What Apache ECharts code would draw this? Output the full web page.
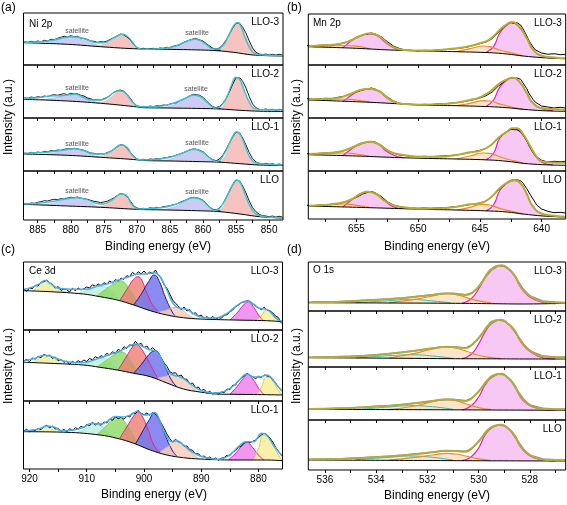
<!DOCTYPE html>
<html><head><meta charset="utf-8">
<script src="https://cdn.jsdelivr.net/npm/echarts@6/dist/echarts.min.js"></script>
<style>html,body{margin:0;padding:0;background:#fff}#c{width:567px;height:505px}</style>
</head><body><div id="c"></div>
<script>
// ---------- axis ticks / labels ----------
const niTicks=[850,852.5,855,857.5,860,862.5,865,867.5,870,872.5,875,877.5,880,882.5,885];
const niLabels=[850,855,860,865,870,875,880,885];
const mnTicks=[640,642.5,645,647.5,650,652.5,655,657.5];
const mnLabels=[640,645,650,655];
const ceTicks=[880,885,890,895,900,905,910,915,920];
const ceLabels=[880,890,900,910,920];
const oTicks=[527,528,529,530,531,532,533,534,535,536];
const oLabels=[528,530,532,534,536];

// ---------- (a) Ni 2p ----------
const a3Raw=[[887,23.3],[886.5,22.7],[886,23.7],[885.5,23],[885,24],[884.5,23.3],[884,24.7],[883.5,24],[883,25.7],[882.5,25.3],[882,26.7],[881.5,27.7],[881,28.7],[880.5,28],[880,29.3],[879.5,28.3],[879,28.7],[878.5,27],[878,26.3],[877.5,25.7],[877,24],[876.5,23.7],[876,22.7],[875.5,23.3],[875,23],[874.5,24],[874,25.7],[873.5,27.3],[873,29],[872.5,31],[872.2,31.3],[872,30],[871.5,28],[871,25],[870.5,20.7],[870,17.3],[869.5,16.3],[869,16.7],[868.5,15.7],[868,16.3],[867.5,16.7],[867,16],[866.5,17],[866,16.7],[865.5,17.7],[865,17.3],[864.5,18.7],[864,19.3],[863.5,20.3],[863,22.3],[862.5,23.7],[862,25],[861.5,26],[861,26.3],[860.5,25],[860,24],[859.5,21.3],[859,19],[858.5,16.7],[858,16],[857.5,17],[857,20.3],[856.5,25],[856,31],[855.5,37],[855,41.7],[854.8,42.7],[854.5,42],[854,37.7],[853.5,32],[853,24],[852.5,17],[852,12.7],[851.5,11],[851,10.3],[850.5,11],[850,10],[849.5,10.7],[849,10],[848.5,10.7],[848,10]];
const a3Env=[[887,22.7],[885,23],[882.5,25],[881.3,27],[880,28.3],[878.8,27.7],[877.5,25],[876.2,22.3],[875,22.3],[874,25],[873,29],[872.2,30.7],[871.5,29],[870.7,23.3],[870,17.7],[869,15.7],[867.5,16],[865.9,16.7],[864.4,18.3],[863.2,21.7],[861.9,25],[861.2,25.7],[860.4,24.3],[859.4,20],[858.4,16],[857.7,16],[856.9,20],[856.2,28.3],[855.4,39],[854.8,42.5],[854.3,39],[853.7,28.3],[852.9,16.7],[852.2,11.7],[850.9,10],[848,9.3]];
const a3Base=[[887.2,22.3],[880.5,20.7],[875.5,18.3],[870.5,16.3],[865.4,15.7],[860.4,15],[857.9,14.3],[855.4,12.7],[852.4,10],[847.9,9]];
const a3Sat1=[[884.5,21.7],[883.5,22.4],[882,25.3],[881,27],[880,27.7],[879,27],[878,24.7],[877,22.2],[876,19.8],[874.8,18]];
const a3Ni3=[[876.5,18.9],[875.5,19.6],[874.5,21.8],[873.7,25.3],[873,28.5],[872.2,30.7],[871.5,28.5],[870.8,23],[870.2,18],[869.5,16.1]];
const a3Sat2=[[866.5,15.9],[865.4,17.2],[863.9,20],[862.4,24.3],[861.2,25.7],[859.9,23.3],[858.9,18.3],[857.9,14.5]];
const a3Ni2=[[858.4,14.6],[857.4,15.5],[856.4,25],[855.4,38.3],[854.8,42.3],[854.2,38.3],[853.4,26.7],[852.4,15],[851.4,10.3],[850.5,9.6]];
const a3Tiny=[[858.3,14.5],[857.8,16],[857.3,14.2]];

const a2Raw=[[887,20.3],[886.5,19.7],[886,21],[885.5,20.3],[885,21.3],[884.5,20.7],[884,22],[883.5,21.3],[883,22.7],[882.5,23.3],[882,22.7],[881.5,23.7],[881,24.3],[880.5,23.3],[880,24.7],[879.5,24],[879,24.3],[878.5,22.7],[878,22],[877.5,20],[877,19.3],[876.5,18],[876,18.7],[875.5,18],[875,19.3],[874.5,20.7],[874,22.7],[873.5,25.7],[873,27.3],[872.5,28],[872,26.7],[871.5,23.7],[871,19.7],[870.5,15],[870,12.3],[869.5,11.3],[869,11.7],[868.5,11],[868,12],[867.5,11.3],[867,12.3],[866.5,12],[866,13],[865.5,12.7],[865,14],[864.5,14.7],[864,15.3],[863.5,17.3],[863,18.7],[862.5,20.3],[862,22],[861.5,23.7],[861,23.3],[860.5,22.7],[860,20.7],[859.5,17.3],[859,14],[858.5,11.3],[858,10.3],[857.5,11.7],[857,14.3],[856.5,19.7],[856,26.3],[855.5,34],[855,40.3],[854.7,41.3],[854.4,40],[854,36.7],[853.5,30],[853,21.3],[852.5,14],[852,10.3],[851.5,8.7],[851,8.3],[850.5,9],[850,8],[849.5,8.7],[849,7.7],[848.5,8.7],[848,8]];
const a2Env=[[887,19.7],[885,20.3],[883,22],[881.5,22.3],[879.2,23.7],[878.5,22],[877,18],[875.5,18],[874.5,20.3],[873.5,25.3],[872.6,27.3],[871.7,24.7],[870.7,16.3],[869.5,11.2],[867.5,11.3],[865.4,13],[863.9,16.3],[862.4,20.7],[861.5,23],[860.4,21.3],[859.2,14.7],[858.2,10],[857.4,11.3],[856.4,21.3],[855.7,33],[855,40.7],[854.4,38],[853.7,26.3],[852.9,14.7],[852.2,9.7],[850.4,8],[848,8]];
const a2Base=[[887.2,18.7],[880.5,17],[875.5,14.7],[870.5,11.5],[869,10.3],[865.4,10],[859.4,9.4],[857.4,9],[854.4,7.7],[851.4,6.8],[847.9,6.5]];
const a2Sat1=[[884.5,18.2],[883,19.5],[881.5,21.7],[880.2,23.2],[879.2,23.5],[878,21.5],[877,18.5],[875.8,14.8]];
const a2Ni3=[[876.2,15.2],[875,16.3],[874,20.3],[873.3,24.3],[872.6,27],[871.8,25],[871,19],[870.2,13],[869.4,10.6]];
const a2Sat2=[[866.4,10.3],[865.4,11.3],[864,14.5],[862.8,19],[861.6,22.7],[860.4,21],[859.3,15],[858.2,10],[857.6,9.1]];
const a2Ni2=[[858.2,9.3],[857.2,10.5],[856.4,20],[855.6,33],[855,40.5],[854.4,37.8],[853.7,26.3],[852.9,14.5],[852,8.8],[851,7]];
const a2Tiny=[[858.2,9.3],[857.8,10.6],[857.3,9.1]];

const a1Raw=[[887,18],[886.5,17.3],[886,18.7],[885.5,18],[885,19],[884.5,18.3],[884,19.7],[883.5,19.3],[883,20.3],[882.5,20],[882,21],[881.5,20.7],[881,21.7],[880.5,22.3],[880,22],[879.5,22.7],[879,22],[878.5,21.3],[878,20.7],[877.5,19.3],[877,18],[876.5,17.7],[876,16.7],[875.5,17.3],[875,17],[874.5,18.3],[874,19.7],[873.5,21.7],[873,24],[872.5,26.3],[872.2,26.7],[872,25.7],[871.5,23],[871,18.7],[870.5,14.7],[870,12],[869.5,11.3],[869,11.7],[868.5,11],[868,12],[867.5,11.7],[867,12.3],[866.5,12],[866,13],[865.5,13.3],[865,14.3],[864.5,14.7],[864,16],[863.5,17],[863,18.3],[862.5,19.7],[862,21],[861.5,22],[861,21.7],[860.5,20.7],[860,19.3],[859.5,16.3],[859,13.3],[858.5,11.3],[858,10.3],[857.5,12],[857,15.7],[856.5,21.7],[856,28],[855.5,34.3],[855,38.7],[854.8,39.7],[854.5,38.3],[854,33],[853.5,26],[853,18.3],[852.5,12.3],[852,9],[851.5,7.7],[851,7],[850.5,7.7],[850,6.7],[849.5,7.3],[849,6.3],[848.5,7],[848,6.3]];
const a1Env=[[887,17.7],[885,18.3],[883,19.3],[881,21],[879.5,22.3],[878,20.3],[876.5,17],[875,17],[873.7,21],[872.4,26],[871.5,23.7],[870.5,14.3],[869,11],[867,11.7],[865,13.7],[863.2,17.7],[861.4,21.7],[860.2,19.3],[858.9,12.7],[857.9,9.6],[856.9,16],[855.9,29.3],[855.4,36],[854.9,39.3],[854.2,34.3],[853.4,21],[852.7,11.7],[851.7,7.7],[849.9,6.7],[848,6]];
const a1Base=[[887.2,17],[880.5,15.7],[875.5,13.7],[870.5,11.5],[869,10.5],[865,10],[859.4,9.2],[857.4,8.8],[854.4,7.3],[851.4,6],[847.9,5.5]];
const a1Sat1=[[884.5,16.8],[883,17.6],[881.5,19.8],[880.2,21.7],[879.2,22],[878,19.7],[877,16.7],[875.8,13.9]];
const a1Ni3=[[876.2,14.2],[875,15.2],[874,18.5],[873.2,22.7],[872.4,26],[871.6,23.7],[870.8,16.7],[870,12],[869.3,10.7]];
const a1Sat2=[[866.4,10.2],[865,11.8],[863.5,16],[862.3,20],[861.4,21.7],[860.2,19.3],[859,13.3],[858,9.5],[857.4,8.8]];
const a1Ni2=[[858.2,9],[857.2,10.5],[856.2,22],[855.4,36],[854.9,39.3],[854.3,35],[853.5,22.5],[852.7,11.5],[851.7,6.5],[851,5.9]];
const a1Tiny=[[858.2,9],[857.8,10.2],[857.3,8.8]];

const a0Raw=[[887,16.3],[886.5,16],[886,17],[885.5,16.7],[885,17.7],[884.5,18.3],[884,19.3],[883.5,19],[883,20],[882.5,20.7],[882,20.3],[881.5,21.3],[881,21],[880.5,22],[880,22.7],[879.5,22.3],[879,23],[878.5,22],[878,21.3],[877.5,20.7],[877,19.7],[876.5,18.7],[876,18.3],[875.5,17.3],[875,18],[874.5,18.7],[874,20.3],[873.5,22],[873,24.3],[872.5,26.3],[872.2,26.7],[872,25.7],[871.5,23.7],[871,19],[870.5,14.3],[870,12],[869.5,11.3],[869,11.7],[868.5,11],[868,12.3],[867.5,11.7],[867,12.7],[866.5,12.3],[866,13.3],[865.5,13.7],[865,14.3],[864.5,15.3],[864,16],[863.5,17.7],[863,19],[862.5,20.3],[862,21.7],[861.5,22.7],[861,22.3],[860.5,21.3],[860,19.7],[859.5,16.3],[859,13],[858.5,10.7],[858,10],[857.5,12],[857,16],[856.5,22.3],[856,29],[855.5,35.3],[855,39.7],[854.8,40.7],[854.5,39.3],[854,34],[853.5,27],[853,19],[852.5,12.3],[852,8.3],[851.5,5.7],[851,4.3],[850.5,4],[850,3.3],[849.5,4],[849,3],[848.5,3.7],[848,3]];
const a0Env=[[887,16],[885,16.7],[883,18.3],[881,20.7],[879.2,22.3],[877.7,20.7],[876.2,16.7],[875.2,16],[874,19],[873,24],[872.4,26],[871.6,24.7],[870.7,15],[869.5,11],[867.5,11.7],[865.4,13.3],[863.4,17.3],[861.4,22.3],[860.2,20],[859.2,14],[858.2,9.5],[857.2,14],[856.2,26.7],[855.4,36.7],[854.9,40],[854.3,36.7],[853.5,23.3],[852.7,11.7],[851.7,5],[849.9,2.7],[848,2.3]];
const a0Base=[[887.2,15.7],[880.5,14],[875.5,12.7],[870.5,10.8],[869,10.4],[865.4,10],[859.4,9],[857.4,8.3],[854.4,6],[851.4,3.3],[847.9,2]];
const a0Sat1=[[884.5,15.2],[883,16.2],[881.5,19.3],[880.2,21.7],[879.2,22.3],[878,20.3],[877,17],[875.8,12.9]];
const a0Ni3=[[876.2,13],[875,14.3],[874,18],[873,23.7],[872.4,26],[871.6,24.3],[870.8,16],[870,11.5],[869.3,10.5]];
const a0Sat2=[[866.4,10.2],[865.2,11.5],[863.5,15.5],[862.3,20],[861.4,22.3],[860.2,20],[859.1,13.3],[858.1,9.4],[857.5,8.4]];
const a0Ni2=[[858.3,8.9],[857.2,11.3],[856.2,25.5],[855.4,36.7],[854.9,40],[854.3,36.5],[853.5,23.3],[852.6,11.5],[851.7,5.2],[851,3.1]];
const a0Tiny=[[858.2,8.9],[857.8,10],[857.3,8.5]];

// ---------- (b) Mn 2p ----------
const b3Raw=[[659,19.3],[658.5,19],[658,19.7],[657.5,20],[657,19.7],[656.5,21],[656,22],[655.5,24.7],[655,27],[654.5,30],[654,31.3],[653.8,32],[653.5,31],[653,28.3],[652.5,23.3],[652,19],[651.5,16.3],[651,15],[650.5,14.7],[650,14],[649.5,14.7],[649,14.3],[648.5,15],[648,15.3],[647.5,15.7],[647,16.3],[646.5,17],[646,18],[645.5,19.7],[645,21.3],[644.5,23],[644,26.3],[643.5,32.3],[643,38.7],[642.7,41.7],[642.5,42.7],[642.3,41.7],[642,42.3],[641.7,40],[641.5,36],[641.2,29],[641,23.7],[640.7,18],[640.5,15],[640,12],[639.5,10.7],[639,11.3],[638.5,10.3],[638.05,10.7]];
const b3Env=[[658.9,19],[657.7,19.7],[656.4,21],[655.5,24.3],[654.7,29],[653.9,31.7],[653.1,28.3],[652.3,20],[651.2,15],[649.6,14.4],[648.2,15],[646.9,16.7],[645.8,19],[645,21.7],[644.2,25.7],[643.4,35],[642.8,41],[642.4,43],[641.8,38.3],[641.2,26.7],[640.7,15.5],[639.9,9],[638.8,7.3],[638.05,6.7]];
const b3Base=[[658.9,18.3],[655,16.7],[652.3,15],[649.6,14],[646.9,13.3],[644.2,12.3],[642.8,11],[641.5,9],[639.9,7.3],[638.05,6.3]];
const b3Mn1=[[656.1,17.1],[655.3,25.3],[654.6,29.7],[653.9,31],[653.2,28.5],[652.6,22],[651.8,16.3],[651.2,14.8]];
const b3Sat1=[[658.5,18.1],[657.2,19],[656.1,19.5],[655,18.8],[653.9,16.2]];
const b3Mn3=[[644.5,12.5],[643.9,18.3],[643.4,31.7],[642.8,40],[642.4,42.3],[641.8,37.7],[641.2,26.5],[640.7,15.5],[639.9,8.8],[639.1,7]];
const b3Sat3=[[646.9,13.3],[645.8,16.3],[644.7,19],[644.2,18.3],[643.4,15],[642.3,11.7],[641.5,9]];

const b2Raw=[[659,19.3],[658.5,18.7],[658,19.3],[657.5,19.7],[657,19.3],[656.5,20.7],[656,21.7],[655.5,24],[655,26],[654.5,28],[654,29.3],[653.8,30],[653.5,29],[653,26],[652.5,21],[652,17],[651.5,14.7],[651,14],[650.5,13.7],[650,13.3],[649.5,13.7],[649,13.3],[648.5,14],[648,14.3],[647.5,14.7],[647,15.3],[646.5,16],[646,17],[645.5,18.3],[645,20],[644.5,22.3],[644,26],[643.5,32],[643,36.7],[642.7,39.3],[642.5,40],[642.2,39.7],[642,40],[641.7,38.7],[641.5,35],[641.2,29.3],[641,24],[640.7,18.7],[640.5,15.7],[640,12],[639.5,11],[639,10],[638.5,10.7],[638.05,10]];
const b2Env=[[658.9,18.7],[657.7,19],[656.4,20.3],[655.5,24],[654.7,28],[653.9,29.3],[653.1,26.3],[652.3,18.7],[651.2,14],[649.6,13.3],[648.2,13.7],[646.9,15.3],[645.8,18],[645,20.7],[644.2,26.3],[643.4,34.7],[642.8,38.7],[642.4,40.3],[641.8,36.3],[641.2,24.7],[640.7,14.7],[639.9,9.7],[638.8,8.7],[638.05,8]];
const b2Base=[[658.9,18],[655,16.3],[652.3,14.7],[649.6,12.8],[646.9,12.3],[644.2,11.3],[642.8,10.3],[641.5,8.7],[639.9,7.3],[638.05,6.7]];
const b2Mn1=[[656.1,16.4],[655.3,23.7],[654.6,28],[653.9,28.8],[653.2,27],[652.6,20.7],[651.8,15.3],[651.2,14.2]];
const b2Sat1=[[658.5,17.8],[657.4,18.7],[656.3,19],[655,18],[653.9,15.8]];
const b2Mn3=[[644.5,11.4],[643.9,18],[643.4,30.7],[642.8,38],[642.4,40],[641.8,36.3],[641.2,25.3],[640.7,15],[639.9,9],[639.1,7.3]];
const b2Sat3=[[646.9,12.3],[645.8,14.7],[644.7,17.3],[644.2,17],[643.4,14],[642.3,10.7],[641.5,8.8]];

const b1Raw=[[659,17.3],[658.5,17],[658,17.7],[657.5,18],[657,18.3],[656.5,19],[656,20.3],[655.5,22.7],[655,25],[654.5,27.7],[654,29],[653.8,29.7],[653.5,29],[653,25.7],[652.5,21],[652,17.7],[651.5,16],[651,15.3],[650.5,14.7],[650,14.3],[649.5,14.7],[649,14.3],[648.5,14.7],[648,15],[647.5,15.3],[647,16],[646.5,16.7],[646,18],[645.5,19.3],[645,20.7],[644.5,22.7],[644,26.7],[643.5,32.7],[643,37.7],[642.7,40],[642.5,41.7],[642.2,41.3],[642,41.3],[641.7,39.3],[641.5,36],[641.2,30],[641,24.7],[640.7,18.3],[640.5,15],[640,10.7],[639.5,9],[639,9.7],[638.5,9.3],[638.05,9.7]];
const b1Env=[[658.9,17],[657.7,17.7],[656.4,19.3],[655.5,22.7],[654.7,27],[653.9,29.3],[653.1,26],[652.3,19.3],[651.2,16],[649.6,14.3],[648.2,14.3],[646.9,16],[645.8,18.7],[645,20.3],[644.2,25],[643.4,34.3],[642.8,39.3],[642.4,42.7],[642,42.7],[641.5,37],[640.9,24.3],[640.4,14.3],[639.9,9.3],[638.8,8.3],[638.05,8.3]];
const b1Base=[[658.9,16.3],[655,15],[652.3,13.7],[649.6,12.7],[646.9,12],[644.2,11],[642.8,9.7],[641.5,7.7],[639.9,6.3],[638.05,5.7]];
const b1Mn1=[[656.1,15.2],[655.3,23],[654.6,28],[653.9,29],[653.2,26.7],[652.6,20],[651.8,15],[651.2,13.3]];
const b1Sat1=[[658.5,16.2],[657.2,17.5],[656.1,18],[655,17],[653.9,14.5]];
const b1Mn3=[[644.5,11.1],[643.9,17.7],[643.4,32.7],[642.8,39.5],[642.2,42.3],[641.6,37.5],[641,26],[640.5,15],[639.9,8.3],[639.1,6.2]];
const b1Sat3=[[646.9,12],[645.8,15],[644.7,18],[644.2,17.7],[643.4,14.3],[642.3,10.3],[641.5,7.8]];

const b0Raw=[[659,13.7],[658.5,13.3],[658,14],[657.5,14.3],[657,14.7],[656.5,15.3],[656,16.7],[655.5,19],[655,21.7],[654.5,25],[654,27],[653.8,27.7],[653.5,26.3],[653,22.7],[652.5,17.3],[652,14],[651.5,12.3],[651,11.3],[650.5,11],[650,10.7],[649.5,11],[649,10.7],[648.5,11],[648,11.3],[647.5,11.7],[647,12.3],[646.5,13],[646,14],[645.5,15],[645,16],[644.5,18],[644,22.3],[643.5,28.7],[643,34],[642.7,37],[642.5,38.7],[642.2,39.3],[642,39.3],[641.7,38.3],[641.5,35.7],[641.2,30.3],[640.9,24],[640.6,18],[640.4,14],[640,10],[639.5,7.7],[639,6.3],[638.5,6.7],[638.05,6]];
const b0Env=[[658.9,13.3],[657.7,14],[656.4,15.7],[655.5,19],[654.7,25],[654.1,27.3],[653.4,25],[652.6,17.3],[651.2,11.7],[649.6,10.3],[648.2,10.7],[646.9,12.3],[645.8,14.7],[645,15.7],[644.2,20.7],[643.4,30.7],[642.8,36.3],[642.2,39],[641.7,35.7],[641.2,25],[640.7,12.3],[639.9,5],[638.8,3],[638.05,2.3]];
const b0Base=[[658.9,13],[655,11.7],[652.3,10.7],[649.6,9.7],[646.9,9],[644.2,8],[642.8,7],[641.5,5],[639.9,3],[638.05,2]];
const b0Mn1=[[656.1,12.1],[655.4,19],[654.7,25],[654.1,27],[653.4,25],[652.7,18],[651.9,11.7],[651.2,10.5]];
const b0Sat1=[[658.5,12.9],[657.2,14.3],[656.1,15],[655,13.7],[653.9,11.5]];
const b0Mn3=[[644.5,8.1],[643.9,14],[643.4,28.3],[642.8,36],[642.2,38.7],[641.7,35.5],[641.2,25],[640.7,12.5],[639.9,4.8],[639.1,3]];
const b0Sat3=[[646.9,9],[645.8,11.7],[644.8,14.7],[644.2,14],[643.4,10.7],[642.3,7.3],[641.5,5.1]];

// ---------- (c) Ce 3d ----------
const c3Raw=[[921,41],[920.5,38.7],[920,42],[919.5,41.3],[919,44.7],[918.5,44],[918,47.7],[917.5,48.3],[917,50],[916.5,47],[916,45.7],[915.5,42],[915,43.3],[914.5,39.7],[914,41],[913.5,40.3],[913,38],[912.5,41.7],[912,39.3],[911.5,42],[911,40],[910.5,41.3],[910,43],[909.5,42],[909,45.3],[908.5,43.7],[908,46],[907.5,44.3],[907,47.3],[906.5,45.7],[906,49],[905.5,47],[905,50.3],[904.5,49],[904,52],[903.5,50.7],[903,54.3],[902.5,53.3],[902,57.7],[901.5,55],[901,58.3],[900.5,56],[900,59],[899.5,55.7],[899,58],[898.5,56.3],[898,60],[897.5,55],[897,52],[896.5,45.3],[896,41.7],[895.5,36],[895,30],[894.5,26.7],[894,24],[893.5,20.3],[893,23],[892.5,19],[892,20.3],[891.5,16],[891,17.3],[890.5,13.7],[890,15],[889.5,12],[889,13.3],[888.5,11],[888,13.7],[887.5,10.7],[887,12.3],[886.5,11.7],[886,14.7],[885.5,15.3],[885,18],[884.5,20],[884,23.3],[883.5,25],[883,27.3],[882.5,28],[882,29.3],[881.5,28.7],[881,26],[880.5,23.7],[880,22],[879.5,20.3],[879,22.7],[878.5,20],[878,19.3],[877.5,17],[877,14],[876.5,12.3],[876,6.7]];
const c3Env=[[920.9,40.7],[919.3,43.3],[918.1,46.7],[917.3,49.5],[916.4,46.7],[914.9,41.7],[912.3,40.7],[910,40.7],[908.2,44],[906.5,46],[904.7,49.5],[903.6,51.5],[903,52.5],[901.8,55],[901.3,56],[900.1,56],[898.9,56.7],[898.1,57.3],[897.2,53.3],[896,40],[894.9,26.7],[893.7,21.7],[892.5,20.7],[891.4,16.7],[890.2,13.3],[887.9,11.7],[885.5,16.7],[884.4,21.7],[883.2,26.7],[882,29],[880.9,26],[879.7,21.5],[878.8,21],[878,18.3],[876.9,11.7],[875.8,8.5]];
const c3Base=[[921,39.3],[916.4,38.3],[910.6,36],[907.7,33.3],[904.7,30],[901.8,25],[898.9,19.3],[896,15],[893.1,12.3],[890.2,11],[884.4,10],[878.6,9.3],[875.8,8.3]];
const c3U3=[[919.3,39],[918.5,44],[917.3,49.5],[916.2,46.5],[915,41],[914,38.5],[913,38]];
const c3U2=[[911.8,36.5],[910.6,38],[909.1,41.5],[907.7,43.5],[906.5,42.5],[905.3,37.3],[904.2,29.5]];
const c3U1=[[908.2,34],[906.5,41.7],[905,47.3],[904.2,49.3],[903.3,46.7],[902.1,36.7],[900.7,24.5],[899.8,21]];
const c3U0=[[904.2,29.5],[902.7,43.3],[901.8,50.7],[901.1,53.3],[900.4,50],[899.5,36.7],[898.1,21.7],[897.2,17.8]];
const c3V3=[[901.8,25],[900.4,36.7],[899.2,48.3],[898.2,55],[897.3,48.3],[896.3,33.3],[895.1,18.3],[894.6,14.5]];
const c3V2=[[897.8,17.8],[896,20],[894.6,22.7],[893.4,20],[892,14],[890.8,11.3]];
const c3V1=[[885,10.1],[883.8,16.7],[882.6,25],[881.8,28.3],[880.9,23.3],[880,15],[879.2,9.5]];
const c3V0=[[880.3,9.6],[879.4,15],[878.6,20],[877.7,17.3],[876.8,11.7],[876.2,8.8]];

const c2Raw=[[921,40],[920.5,41.7],[920,39.3],[919.5,43],[919,42],[918.5,44.7],[918,43.3],[917.5,46.7],[917,45],[916.5,46],[916,42.7],[915.5,44],[915,40.3],[914.5,41.7],[914,38.7],[913.5,40],[913,36.3],[912.5,39.7],[912,38],[911.5,40.3],[911,38.7],[910.5,41],[910,39.3],[909.5,42.7],[909,41],[908.5,44.3],[908,42.7],[907.5,45.3],[907,44],[906.5,47.7],[906,46],[905.5,49.3],[905,47.7],[904.5,51.7],[904,50],[903.5,54.3],[903,52.7],[902.5,56.3],[902,55],[901.5,59.7],[901,56.3],[900.5,57.7],[900,53.3],[899.5,55],[899,51],[898.5,53.3],[898,50.7],[897.5,48.7],[897,43.3],[896.5,38],[896,34.7],[895.5,29.3],[895,27.7],[894.5,28.3],[894,24.7],[893.5,26],[893,22],[892.5,21.7],[892,17.3],[891.5,18],[891,13.3],[890.5,14],[890,10.3],[889.5,11.7],[889,8],[888.5,9.7],[888,7],[887.5,8.3],[887,6.7],[886.5,9],[886,8.3],[885.5,12],[885,11.3],[884.5,15.7],[884,16],[883.5,20.3],[883,22.7],[882.5,25],[882,27.7],[881.5,25.7],[881,24.3],[880.5,22.3],[880,24.7],[879.5,23.3],[879,26],[878.5,25],[878,24.3],[877.5,21],[877,18],[876.5,13.7],[876,10.3]];
const c2Env=[[920.9,40.3],[919.3,42.3],[917.3,45.7],[915.8,43.7],[913.5,39.3],[910.6,38.3],[908.8,41],[907.1,44.3],[905.3,47.7],[904.2,50],[903,53.7],[901.8,56.7],[901.3,57],[900.4,55],[899.2,51.7],[898.2,50.3],[897.5,47.7],[896.6,38],[895.7,29],[894.9,26],[893.7,24],[892.5,20],[891.4,15],[890.2,11],[889,9],[887.9,8],[886.7,8.5],[885.5,11],[884.4,15],[883.2,22],[882,27],[880.9,24],[879.7,24],[878.6,26],[877.7,23],[876.8,16],[875.8,10]];
const c2Base=[[921,38.7],[916.4,37.7],[910.6,36],[907.7,33.7],[904.7,31],[901.8,27.7],[898.9,24.3],[896,18],[893.1,12],[890.2,9],[887.3,7],[884.4,6.7],[878.6,6.3],[875.8,6]];
const c2U3=[[919.3,38.5],[918.4,42],[917.3,45.5],[916.1,43.5],[914.9,39.5],[914.4,38]];
const c2U2=[[910.6,36],[909.1,39.5],[907.7,42.5],[906.5,42],[905.3,37],[904.2,31]];
const c2U1=[[908.2,34],[906.5,41],[905,47],[904.1,49],[903.1,46.5],[902,37],[900.7,27]];
const c2U0=[[904.5,31.2],[903,45],[902,54],[901.4,56.5],[900.7,54],[899.6,44],[898.3,30],[897.5,21.5]];
const c2V3=[[901.8,27.7],[900.4,37],[899.2,46],[898.2,50],[897.3,46],[896.3,34],[895.1,20],[894.3,14.5]];
const c2V2=[[897.8,22.5],[896,25],[894.6,26],[893.4,24],[892,16],[890.8,10.5]];
const c2V1=[[885,6.7],[883.8,14],[882.6,23],[881.9,26.5],[881,22],[880,13],[879.1,6.6]];
const c2V0=[[880.3,6.5],[879.4,15],[878.6,24],[877.7,21.5],[876.8,13],[876.2,8],[875.8,6]];

const c1Raw=[[921,38],[920.5,39.7],[920,37.3],[919.5,39],[919,38.3],[918.5,40.7],[918,39.3],[917.5,42.3],[917,43.7],[916.5,41.3],[916,43],[915.5,40],[915,40.7],[914.5,37.7],[914,39.7],[913.5,37],[913,40.3],[912.5,38.3],[912,41.3],[911.5,40],[911,42.7],[910.5,41.3],[910,44.7],[909.5,43.3],[909,46.7],[908.5,44],[908,46.3],[907.5,43.7],[907,47],[906.5,46],[906,50],[905.5,48.7],[905,52.3],[904.5,50.3],[904,51.7],[903.5,49.7],[903,53],[902.5,52],[902,56],[901.5,55.3],[901,58.7],[900.5,55.7],[900,54.3],[899.5,56],[899,53.7],[898.5,56.7],[898,55],[897.5,51.3],[897,46],[896.5,40.7],[896,35],[895.5,30.3],[895,27],[894.5,29.7],[894,27.3],[893.5,26],[893,22.7],[892.5,23],[892,19.3],[891.5,18.7],[891,15],[890.5,15.3],[890,12.3],[889.5,13],[889,10.7],[888.5,12],[888,9.7],[887.5,11],[887,9],[886.5,10.7],[886,11.3],[885.5,13.7],[885,13.3],[884.5,17],[884,18.3],[883.5,21.7],[883,23],[882.5,26],[882,27.7],[881.5,26.3],[881,27.7],[880.5,29],[880,31.3],[879.5,34],[879,35.7],[878.5,34.3],[878,31],[877.5,27],[877,21.7],[876.5,17.7],[876,13.3]];
const c1Env=[[920.9,38.3],[919.3,39],[918.1,40.7],[917,43],[915.8,42.3],[914.4,38.3],[912.3,39],[910.6,41.7],[909.1,45.7],[907.7,45],[906.5,47.3],[905,52.5],[903.6,52],[902.1,54.7],[901.1,58],[900.1,54],[898.9,54.5],[898.2,56.5],[897.3,49],[896.3,35.7],[895.1,27.3],[894.3,28.3],[893.1,24],[891.7,17.3],[890.2,13],[888.5,10.7],[887,9.7],[885.5,12.3],[884.4,17.3],[883.2,24],[882.2,27.3],[880.9,27.3],[879.4,35.7],[878.6,34],[877.4,24],[876.5,17.3],[875.8,13]];
const c1Base=[[921,37.3],[913.5,36.7],[907.7,34],[904.7,30.7],[901.8,25.7],[898.9,19],[896,14],[893.1,11.3],[890.2,10],[884.4,9],[878.6,9],[875.8,8.3]];
const c1U3=[[919,37.2],[918.1,39.5],[917,42.5],[915.8,41.5],[914.6,38.5],[914.1,37.2]];
const c1U2=[[911.7,36.5],[910.3,40],[908.9,45],[907.9,44],[906.6,39],[905.3,32]];
const c1U1=[[908.2,34.5],[906.8,42],[905.3,50.5],[904.5,52],[903.5,48],[902.3,38],[901,25],[900.3,23]];
const c1U0=[[904.2,31],[902.9,43],[901.8,53],[901.1,57],[900.4,53.5],[899.4,41],[898.1,22],[897.2,17]];
const c1V3=[[901.5,25],[900.4,36],[899.2,48],[898.2,55.5],[897.3,48.5],[896.3,34],[895.1,19],[894.3,13]];
const c1V2=[[897.2,17],[895.7,23],[894.3,27.5],[893.1,23.5],[891.7,16],[890.5,10.5]];
const c1V1=[[885.3,9],[884.1,15],[882.9,23],[882,26.5],[881.1,22],[880,14],[879.1,9]];
const c1V0=[[880.9,9],[880,20],[879.1,33.5],[878.3,32],[877.3,22],[876.3,12],[875.8,8.5]];

// ---------- (d) O 1s ----------
const d3Raw=[[536.5,9],[536,9.3],[535.5,9.3],[535,10],[534.5,10.7],[534,11.3],[533.5,12],[533,13],[532.5,14.3],[532,15.7],[531.5,17],[531,17.7],[530.5,16.3],[530.25,18],[530,24],[529.75,33.3],[529.5,41],[529.25,45],[529,45],[528.75,40.7],[528.5,31.3],[528.25,21.7],[528,15],[527.5,10],[527,8.7],[526.6,8.3]];
const d3Env=[[536.65,8.7],[535.4,9.3],[534.1,11],[532.8,13.3],[531.8,16],[531.25,17.7],[530.9,17],[530.5,16],[530.2,19.3],[529.9,27.7],[529.65,37.7],[529.4,43.7],[529.1,45.7],[528.9,43.7],[528.6,36],[528.4,26],[528.1,17],[527.7,11],[527.3,8.7],[526.6,8.3]];
const d3Base=[[536.65,8.3],[533.5,8],[530.9,7.7],[529.5,7.3],[528.25,7],[526.6,7.7]];
const d3Lat=[[530.65,7.7],[530.3,12],[530,22],[529.75,34],[529.5,42],[529.15,45.5],[528.9,43],[528.6,35.5],[528.4,25.5],[528.1,16],[527.7,10.2],[527.35,8],[527,7.4]];
const d3Vac=[[533.5,8.3],[532.5,11.7],[531.8,15],[531.25,17.5],[530.9,16.7],[530.5,13.7],[530.05,10.3],[529.5,8]];
const d3Ads=[[534.8,8.3],[533.5,10.3],[532.7,11.7],[531.9,10.3],[531.1,8.2]];

const d2Raw=[[536.5,9.7],[536,10],[535.5,10.3],[535,10.7],[534.5,11.3],[534,12.3],[533.5,13.3],[533,14.7],[532.5,16.3],[532,18],[531.5,19.7],[531,20.3],[530.5,19],[530.25,22.3],[530,28.7],[529.75,37.3],[529.5,44],[529.25,47],[529,46],[528.75,41],[528.5,32.3],[528.25,23],[528,16],[527.5,11],[527,10],[526.6,9.7]];
const d2Env=[[536.65,9.7],[535.4,10.3],[534.1,11.7],[532.8,15.3],[531.8,18.7],[531.25,20.3],[530.9,19.7],[530.5,18.7],[530.2,23.7],[529.9,32],[529.65,41],[529.4,46.3],[529.1,47.3],[528.9,44.3],[528.6,37],[528.4,27.7],[528.1,18.7],[527.7,12],[527.35,10.3],[526.6,9.7]];
const d2Base=[[536.65,9.3],[533.5,8.8],[530.9,8.3],[529.5,8.2],[528,8],[526.6,8]];
const d2Lat=[[530.65,8.3],[530.3,12.5],[530,23],[529.75,35],[529.5,43.5],[529.15,47],[528.9,44.3],[528.6,37],[528.4,27],[528.1,17.7],[527.7,11],[527.35,8.7],[527,8.1]];
const d2Vac=[[533.5,9],[532.5,13.7],[531.8,18],[531.25,20.3],[530.9,19],[530.5,16],[530.05,12],[529.5,9.3],[529.1,8.3]];
const d2Ads=[[534.8,9],[533.5,11.3],[532.6,12.3],[531.8,11],[531,8.6]];

const d1Raw=[[536.5,11],[536,11.3],[535.5,11.7],[535,12],[534.5,12.7],[534,13.7],[533.5,14.3],[533,15.3],[532.5,16.7],[532,18.3],[531.5,20],[531,20.7],[530.5,19.3],[530.25,22],[530,28.3],[529.75,36.7],[529.5,43],[529.25,46],[529,45.3],[528.75,39.7],[528.5,30],[528.25,21],[528,15],[527.5,11.7],[527,11],[526.6,10.7]];
const d1Env=[[536.65,11],[535.4,11.7],[534.1,13.3],[532.8,16],[531.8,19],[531.25,20.7],[530.9,20],[530.5,19],[530.2,23.3],[529.9,31.7],[529.65,40],[529.4,45],[529.1,46.3],[528.9,43.3],[528.6,35],[528.4,25],[528.1,16.7],[527.7,12.3],[527.35,11],[526.6,10.7]];
const d1Base=[[536.65,10.7],[532.2,10.3],[529.5,10],[526.6,9.7]];
const d1Lat=[[530.65,10],[530.3,14],[530,23],[529.75,35],[529.5,42.5],[529.15,46],[528.9,43.3],[528.6,35],[528.4,24.3],[528.1,16],[527.7,11.7],[527.35,10.2],[527,9.9]];
const d1Vac=[[533.5,10.3],[532.5,14],[531.8,18.3],[531.25,20.3],[530.9,19.3],[530.5,16.3],[530.05,12.7],[529.5,10.3]];
const d1Ads=[[534.8,10.3],[533.5,13],[532.6,14.3],[531.8,13.3],[531,10.7]];

const d0Raw=[[536.5,10.7],[536,11],[535.5,11],[535,11.7],[534.5,12.3],[534,13],[533.5,13.7],[533,14.7],[532.5,16],[532,17.3],[531.5,18.7],[531,19.3],[530.5,18.7],[530.25,22],[530,28.3],[529.75,36.7],[529.5,42.3],[529.25,45],[529,44.3],[528.75,39.3],[528.5,30],[528.25,21],[528,14.7],[527.5,11],[527,10.3],[526.6,10]];
const d0Env=[[536.65,10.7],[535.4,11],[534.1,12.7],[532.8,15],[531.8,17.7],[531.25,19.3],[530.9,19],[530.5,18.3],[530.2,23.3],[529.9,31.7],[529.65,40],[529.4,44],[529.1,45.3],[528.9,42.7],[528.6,35],[528.4,25],[528.1,16.7],[527.7,11.7],[527.35,10],[526.6,10]];
const d0Base=[[536.65,10],[532.2,9.5],[529.5,9.2],[526.6,9]];
const d0Lat=[[530.65,9.3],[530.3,13],[530,22],[529.75,35],[529.5,42],[529.15,45],[528.9,42.7],[528.6,35],[528.4,24.7],[528.1,16],[527.7,11.3],[527.35,9.7],[527,9.2]];
const d0Vac=[[533.5,10],[532.5,12.7],[531.8,15],[531.25,16.7],[530.9,16],[530.5,14],[530.05,11.3],[529.5,9.4]];
const d0Ads=[[534.8,10.3],[533.5,12.7],[532.6,14],[531.8,12.7],[531,10]];

// ---------- styles & layout ----------
const FONT='"Liberation Sans", Arial, sans-serif';
const PS={
  niMain:{fill:'#f5c4c1',line:'#e7aaa7',w:0.6},
  niSat:{fill:'#cbcbf4',line:'#b3b3ec',w:0.6},
  niTiny:{fill:'#1c1c9c',line:'#1c1c9c',w:0.6},
  mnMain:{fill:'#f6c8f3',line:'#e31bc9',w:1.2},
  mnSat:{fill:'rgba(250,220,185,0.75)',line:'#f5872b',w:1.2},
  ceU3:{fill:'rgba(240,236,160,0.85)',line:'#d9d070',w:0.8},
  ceU2:{fill:'rgba(190,240,222,0.85)',line:'#8edcc4',w:0.8},
  ceU1:{fill:'rgba(140,218,100,0.8)',line:'#74c84e',w:0.8},
  ceU0:{fill:'rgba(236,126,116,0.8)',line:'#e2208c',w:1},
  ceV3:{fill:'rgba(118,118,238,0.85)',line:'#141a90',w:1},
  ceV2:{fill:'rgba(248,206,190,0.85)',line:'#eeaa98',w:0.8},
  ceV1:{fill:'rgba(238,140,238,0.9)',line:'#de18c0',w:1},
  ceV0:{fill:'rgba(248,240,160,0.9)',line:'#e0c850',w:1},
  oLat:{fill:'#f6c8f3',line:'#e01fc8',w:1.2},
  oVac:{fill:'rgba(250,224,190,0.8)',line:'#f08a30',w:1.2},
  oAds:{fill:'rgba(200,240,232,0.7)',line:'#3cbcaa',w:1}
};
const panels=[
  {left:23.5,width:259.5,tops:[13,65,118,171],bottom:220,min:847.9,max:887.15,ticks:niTicks,labels:niLabels,
   env:{color:'#3cc3d2',width:1.4},raw:{color:'#000',width:0.9},
   subs:[
    {name:'LLO-3',raw:a3Raw,env:a3Env,base:a3Base,peaks:[[a3Sat1,'niSat'],[a3Ni3,'niMain'],[a3Sat2,'niSat'],[a3Ni2,'niMain'],[a3Tiny,'niTiny']]},
    {name:'LLO-2',raw:a2Raw,env:a2Env,base:a2Base,peaks:[[a2Sat1,'niSat'],[a2Ni3,'niMain'],[a2Sat2,'niSat'],[a2Ni2,'niMain'],[a2Tiny,'niTiny']]},
    {name:'LLO-1',raw:a1Raw,env:a1Env,base:a1Base,peaks:[[a1Sat1,'niSat'],[a1Ni3,'niMain'],[a1Sat2,'niSat'],[a1Ni2,'niMain'],[a1Tiny,'niTiny']]},
    {name:'LLO',raw:a0Raw,env:a0Env,base:a0Base,peaks:[[a0Sat1,'niSat'],[a0Ni3,'niMain'],[a0Sat2,'niSat'],[a0Ni2,'niMain'],[a0Tiny,'niTiny']]}]},
  {left:308.3,width:257.4,tops:[14,65,118,171],bottom:219,min:638.05,max:658.9,ticks:mnTicks,labels:mnLabels,
   env:{color:'#b5ad30',width:2},raw:{color:'#000',width:1},
   subs:[
    {name:'LLO-3',raw:b3Raw,env:b3Env,base:b3Base,peaks:[[b3Mn1,'mnMain'],[b3Sat1,'mnSat'],[b3Mn3,'mnMain'],[b3Sat3,'mnSat']]},
    {name:'LLO-2',raw:b2Raw,env:b2Env,base:b2Base,peaks:[[b2Mn1,'mnMain'],[b2Sat1,'mnSat'],[b2Mn3,'mnMain'],[b2Sat3,'mnSat']]},
    {name:'LLO-1',raw:b1Raw,env:b1Env,base:b1Base,peaks:[[b1Mn1,'mnMain'],[b1Sat1,'mnSat'],[b1Mn3,'mnMain'],[b1Sat3,'mnSat']]},
    {name:'LLO',raw:b0Raw,env:b0Env,base:b0Base,peaks:[[b0Mn1,'mnMain'],[b0Sat1,'mnSat'],[b0Mn3,'mnMain'],[b0Sat3,'mnSat']]}]},
  {left:23.5,width:259,tops:[262,330,401],bottom:469,min:875.8,max:921.05,ticks:ceTicks,labels:ceLabels,
   env:{color:'#4aaee6',width:1.5},raw:{color:'#000',width:1},
   subs:[
    {name:'LLO-3',raw:c3Raw,env:c3Env,base:c3Base,peaks:[[c3U3,'ceU3'],[c3U2,'ceU2'],[c3U1,'ceU1'],[c3U0,'ceU0'],[c3V3,'ceV3'],[c3V2,'ceV2'],[c3V1,'ceV1'],[c3V0,'ceV0']]},
    {name:'LLO-2',raw:c2Raw,env:c2Env,base:c2Base,peaks:[[c2U3,'ceU3'],[c2U2,'ceU2'],[c2U1,'ceU1'],[c2U0,'ceU0'],[c2V3,'ceV3'],[c2V2,'ceV2'],[c2V1,'ceV1'],[c2V0,'ceV0']]},
    {name:'LLO-1',raw:c1Raw,env:c1Env,base:c1Base,peaks:[[c1U3,'ceU3'],[c1U2,'ceU2'],[c1U1,'ceU1'],[c1U0,'ceU0'],[c1V3,'ceV3'],[c1V2,'ceV2'],[c1V1,'ceV1'],[c1V0,'ceV0']]}]},
  {left:308.3,width:257.4,tops:[262,311,367,420],bottom:470,min:526.6,max:536.65,ticks:oTicks,labels:oLabels,
   env:{color:'#b3ab3a',width:2},raw:{color:'#8c8c8c',width:1.5},
   subs:[
    {name:'LLO-3',raw:d3Raw,env:d3Env,base:d3Base,peaks:[[d3Lat,'oLat'],[d3Ads,'oAds'],[d3Vac,'oVac']]},
    {name:'LLO-2',raw:d2Raw,env:d2Env,base:d2Base,peaks:[[d2Lat,'oLat'],[d2Ads,'oAds'],[d2Vac,'oVac']]},
    {name:'LLO-1',raw:d1Raw,env:d1Env,base:d1Base,peaks:[[d1Lat,'oLat'],[d1Ads,'oAds'],[d1Vac,'oVac']]},
    {name:'LLO',raw:d0Raw,env:d0Env,base:d0Base,peaks:[[d0Lat,'oLat'],[d0Ads,'oAds'],[d0Vac,'oVac']]}]}
];

const option={animation:false,grid:[],xAxis:[],yAxis:[],series:[],graphic:[]};
const g=option.graphic;
function txt(x,y,text,size,o){o=o||{};g.push({type:'text',x:x,y:y,rotation:o.rot||0,silent:true,z:100,
  style:{text:text,font:size+'px '+FONT,fill:o.color||'#000',align:o.align||'left',verticalAlign:'middle'}});}

panels.forEach(p=>{
  p.subs.forEach((s,k)=>{
    const gi=option.grid.length;
    const top=p.tops[k];
    const bot=k+1<p.tops.length?p.tops[k+1]:p.bottom;
    const h=bot-top;
    const last=k===p.tops.length-1;
    option.grid.push({left:p.left,top:top,width:p.width,height:h,show:true,borderColor:'#000',borderWidth:1,backgroundColor:'transparent',z:10});
    option.xAxis.push({type:'value',gridIndex:gi,min:p.min,max:p.max,inverse:true,z:10,
      axisLine:{show:false},splitLine:{show:false},
      axisTick:{show:true,inside:false,length:3,customValues:p.ticks,lineStyle:{color:'#000',width:1}},
      axisLabel:{show:last,customValues:p.labels,fontSize:10,color:'#000',margin:5,fontFamily:FONT}});
    option.yAxis.push({type:'value',gridIndex:gi,min:0,max:h,show:false});
    const common={type:'line',xAxisIndex:gi,yAxisIndex:gi,symbol:'none',silent:true,z:2};
    s.peaks.forEach(([d,st])=>{const q=PS[st];
      option.series.push(Object.assign({},common,{data:d,smooth:0.5,lineStyle:{color:q.line,width:q.w},areaStyle:{color:q.fill,opacity:1,origin:'start'}}));});
    option.series.push(Object.assign({},common,{data:s.base,smooth:0.4,lineStyle:{color:'#000',width:1},areaStyle:{color:'#fff',opacity:1,origin:'start'}}));
    option.series.push(Object.assign({},common,{data:s.raw,smooth:false,lineStyle:{color:p.raw.color,width:p.raw.width}}));
    option.series.push(Object.assign({},common,{data:s.env,smooth:0.5,lineStyle:{color:p.env.color,width:p.env.width}}));
    txt(p.left+p.width-4,top+9,s.name,10,{align:'right'});
  });
});

txt(1,8,'(a)',12); txt(287,8,'(b)',12); txt(1,250,'(c)',12); txt(287,250,'(d)',12);
txt(29,24,'Ni 2p',10); txt(313,23,'Mn 2p',10); txt(29,271,'Ce 3d',10); txt(313,270,'O 1s',10);
txt(9,117,'Intensity (a.u.)',12,{align:'center',rot:Math.PI/2});
txt(297,117,'Intensity (a.u.)',12,{align:'center',rot:Math.PI/2});
txt(9,366,'Intensity (a.u.)',12,{align:'center',rot:Math.PI/2});
txt(297,366,'Intensity (a.u.)',12,{align:'center',rot:Math.PI/2});
txt(158,247,'Binding energy (eV)',12,{align:'center'});
txt(437,247,'Binding energy (eV)',12,{align:'center'});
txt(154,495,'Binding energy (eV)',12,{align:'center'});
txt(437,496,'Binding energy (eV)',12,{align:'center'});
[[77,31],[197,33],[77,88],[196,89],[77,144],[197,143],[77,191],[197,192]].forEach(([x,y])=>txt(x,y,'satellite',7,{align:'center',color:'#555'}));

const chart=echarts.init(document.getElementById('c'),null,{renderer:'canvas'});
chart.setOption(option);
</script></body></html>
